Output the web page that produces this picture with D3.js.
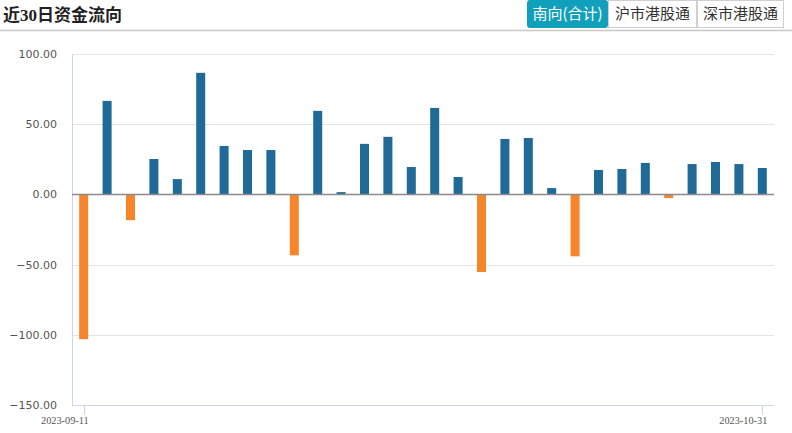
<!DOCTYPE html>
<html><head><meta charset="utf-8">
<script src="https://cdn.jsdelivr.net/npm/d3@7"></script>
<style>
html,body{margin:0;padding:0;background:#fff;}
svg{display:block;}
</style></head>
<body>
<svg id="chart" width="792" height="433"></svg>
<script>
const title = "近30日资金流向";
const tabs = ["南向(合计)", "沪市港股通", "深市港股通"];
const dates = ["2023-09-11","2023-09-12","2023-09-13","2023-09-14","2023-09-15",
  "2023-09-18","2023-09-19","2023-09-20","2023-09-21","2023-09-22",
  "2023-09-25","2023-09-26","2023-09-27","2023-09-28",
  "2023-10-09","2023-10-10","2023-10-11","2023-10-12","2023-10-13",
  "2023-10-16","2023-10-17","2023-10-18","2023-10-19","2023-10-20",
  "2023-10-24","2023-10-25","2023-10-26","2023-10-27",
  "2023-10-30","2023-10-31"];
const flows = [-103.1, 66.6, -18.4, 25.2, 10.9, 86.6, 34.5, 31.6, 31.6, -43.4,
  59.5, 1.6, 36.0, 41.0, 19.5, 61.6, 12.4, -55.3, 39.5, 40.2,
  4.5, -44.1, 17.4, 18.1, 22.4, -2.6, 21.6, 23.1, 21.6, 18.8];
const yTicks = [100, 50, 0, -50, -100, -150];
const xLabels = ["2023-09-11", "2023-10-31"];

const svg = d3.select("#chart");
const pL = 72, pR = 774, pT = 54, pB = 405;

// Header
svg.append("text").attr("x", 3).attr("y", 21)
  .attr("font-family", "'Liberation Serif','Noto Sans CJK SC',serif")
  .attr("font-weight", "bold").attr("font-size", 17).attr("fill", "#222")
  .text(title);
svg.append("line").attr("x1", 0).attr("x2", 792).attr("y1", 30.5).attr("y2", 30.5)
  .attr("stroke", "#c8c8c8").attr("stroke-width", 1.5);

const tabX = [527, 608, 697, 784];
tabs.forEach((t, i) => {
  const x0 = tabX[i], x1 = tabX[i + 1];
  svg.append("rect").attr("x", x0 + 0.5).attr("y", 0.5).attr("width", x1 - x0 - 1).attr("height", 27)
    .attr("rx", i === 0 ? 2 : 0)
    .attr("fill", i === 0 ? "#11a0bb" : "#fff")
    .attr("stroke", i === 0 ? "#11a0bb" : "#cfcfcf");
  svg.append("text").attr("x", (x0 + x1) / 2).attr("y", 19)
    .attr("text-anchor", "middle")
    .attr("font-family", "'Noto Sans CJK SC',sans-serif")
    .attr("font-size", 15).attr("fill", i === 0 ? "#fff" : "#333")
    .text(t);
});

const x = d3.scaleBand().domain(dates).range([pL, pR]).paddingInner(0.615).paddingOuter(0.3075);
const y = d3.scaleLinear().domain([-150, 100]).range([pB, pT]);

// gridlines
svg.append("g").selectAll("line").data(yTicks.filter(d => d !== -150 && d !== 0)).join("line")
  .attr("x1", pL).attr("x2", pR)
  .attr("y1", d => Math.round(y(d)) + 0.5).attr("y2", d => Math.round(y(d)) + 0.5)
  .attr("stroke", "#e3e3e3").attr("stroke-width", 1);

// y axis labels
svg.append("g").selectAll("text").data(yTicks).join("text")
  .attr("x", 57).attr("y", d => y(d) + 4)
  .attr("text-anchor", "end")
  .attr("font-family", "'DejaVu Sans',Verdana,sans-serif")
  .attr("font-size", 11).attr("fill", "#555")
  .text(d => d3.format(".2f")(d));

// axis lines
svg.append("line").attr("x1", pL + 0.5).attr("x2", pL + 0.5).attr("y1", pT).attr("y2", pB)
  .attr("stroke", "#ccd6eb");
svg.append("line").attr("x1", pL).attr("x2", pR).attr("y1", pB + 0.5).attr("y2", pB + 0.5)
  .attr("stroke", "#ccd6eb");

// bars
svg.append("g").selectAll("rect").data(dates).join("rect")
  .attr("x", d => x(d))
  .attr("width", x.bandwidth())
  .attr("y", (d, i) => y(Math.max(0, flows[i])))
  .attr("height", (d, i) => Math.abs(y(flows[i]) - y(0)))
  .attr("fill", (d, i) => flows[i] >= 0 ? "#1f6a97" : "#f6852b");

// zero line
svg.append("line").attr("x1", pL).attr("x2", pR)
  .attr("y1", y(0)).attr("y2", y(0))
  .attr("stroke", "#8a8a8a").attr("stroke-width", 1.5);

// x ticks & labels
const xg = svg.append("g");
xLabels.forEach(l => {
  const cx = x(l) + x.bandwidth() / 2;
  xg.append("line").attr("x1", Math.round(cx) + 0.5).attr("x2", Math.round(cx) + 0.5)
    .attr("y1", pB).attr("y2", pB + 10).attr("stroke", "#ccd6eb");
  xg.append("text").attr("x", cx + 5).attr("y", 424)
    .attr("text-anchor", "end")
    .attr("font-family", "'Liberation Serif',serif")
    .attr("font-size", 10.3).attr("fill", "#555")
    .text(l);
});
</script>
</body></html>
